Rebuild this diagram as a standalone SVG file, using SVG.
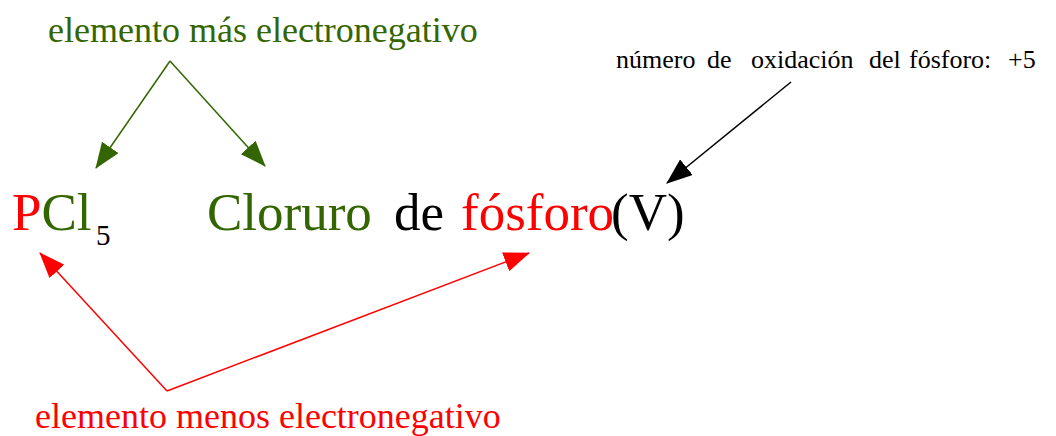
<svg xmlns="http://www.w3.org/2000/svg" width="1056" height="436" viewBox="0 0 1056 436">
<style>
text{font-family:"Liberation Serif","Times New Roman",serif}
.g{fill:#336600}
.r{fill:#ff0000}
.k{fill:#000000}
.lbl{font-size:36px}
.sm{font-size:26px}
.big{font-size:53px}
.ln{fill:none;stroke-width:1.5}
</style>
<defs>
<marker id="ag" markerUnits="userSpaceOnUse" viewBox="0 0 26 20" markerWidth="26" markerHeight="20" refX="25" refY="10" orient="auto"><path d="M0,0 L26,10 L0,20 z" fill="#336600"/></marker>
<marker id="ar" markerUnits="userSpaceOnUse" viewBox="0 0 26 20" markerWidth="26" markerHeight="20" refX="25" refY="10" orient="auto"><path d="M0,0 L26,10 L0,20 z" fill="#ff0000"/></marker>
<marker id="ak" markerUnits="userSpaceOnUse" viewBox="0 0 26 20" markerWidth="26" markerHeight="20" refX="25" refY="10" orient="auto"><path d="M0,0 L26,10 L0,20 z" fill="#000000"/></marker>
</defs>
<rect width="1056" height="436" fill="#ffffff"/>
<g id="connectors">
<line class="ln" stroke="#336600" x1="170" y1="61" x2="96" y2="168" marker-end="url(#ag)"/>
<line class="ln" stroke="#336600" x1="170" y1="61" x2="265" y2="166" marker-end="url(#ag)"/>
<line class="ln" stroke="#000000" x1="791" y1="82" x2="667" y2="183" marker-end="url(#ak)"/>
<line class="ln" stroke="#ff0000" x1="167" y1="391" x2="40" y2="253" marker-end="url(#ar)"/>
<line class="ln" stroke="#ff0000" x1="167" y1="391" x2="529" y2="253" marker-end="url(#ar)"/>
</g>
<g id="label-mas">
<text class="lbl g" x="48" y="42">elemento más electronegativo</text>
</g>
<g id="label-oxidacion">
<text class="sm k" y="68"><tspan x="616">número</tspan><tspan x="707">de</tspan><tspan x="751">oxidación</tspan><tspan x="869">del</tspan><tspan x="909">fósforo:</tspan><tspan x="1008">+5</tspan></text>
</g>
<g id="formula">
<text class="big" y="230"><tspan class="r" x="12">P</tspan><tspan class="g">Cl</tspan></text>
<text class="k" font-size="29" x="96" y="245">5</text>
</g>
<g id="name">
<text class="big" y="230"><tspan class="g" x="207">Cloruro</tspan><tspan class="k" x="394">de</tspan><tspan class="r" x="461">fósforo</tspan><tspan class="k" x="611">(V)</tspan></text>
</g>
<g id="label-menos">
<text class="lbl r" x="35" y="428">elemento menos electronegativo</text>
</g>
</svg>
